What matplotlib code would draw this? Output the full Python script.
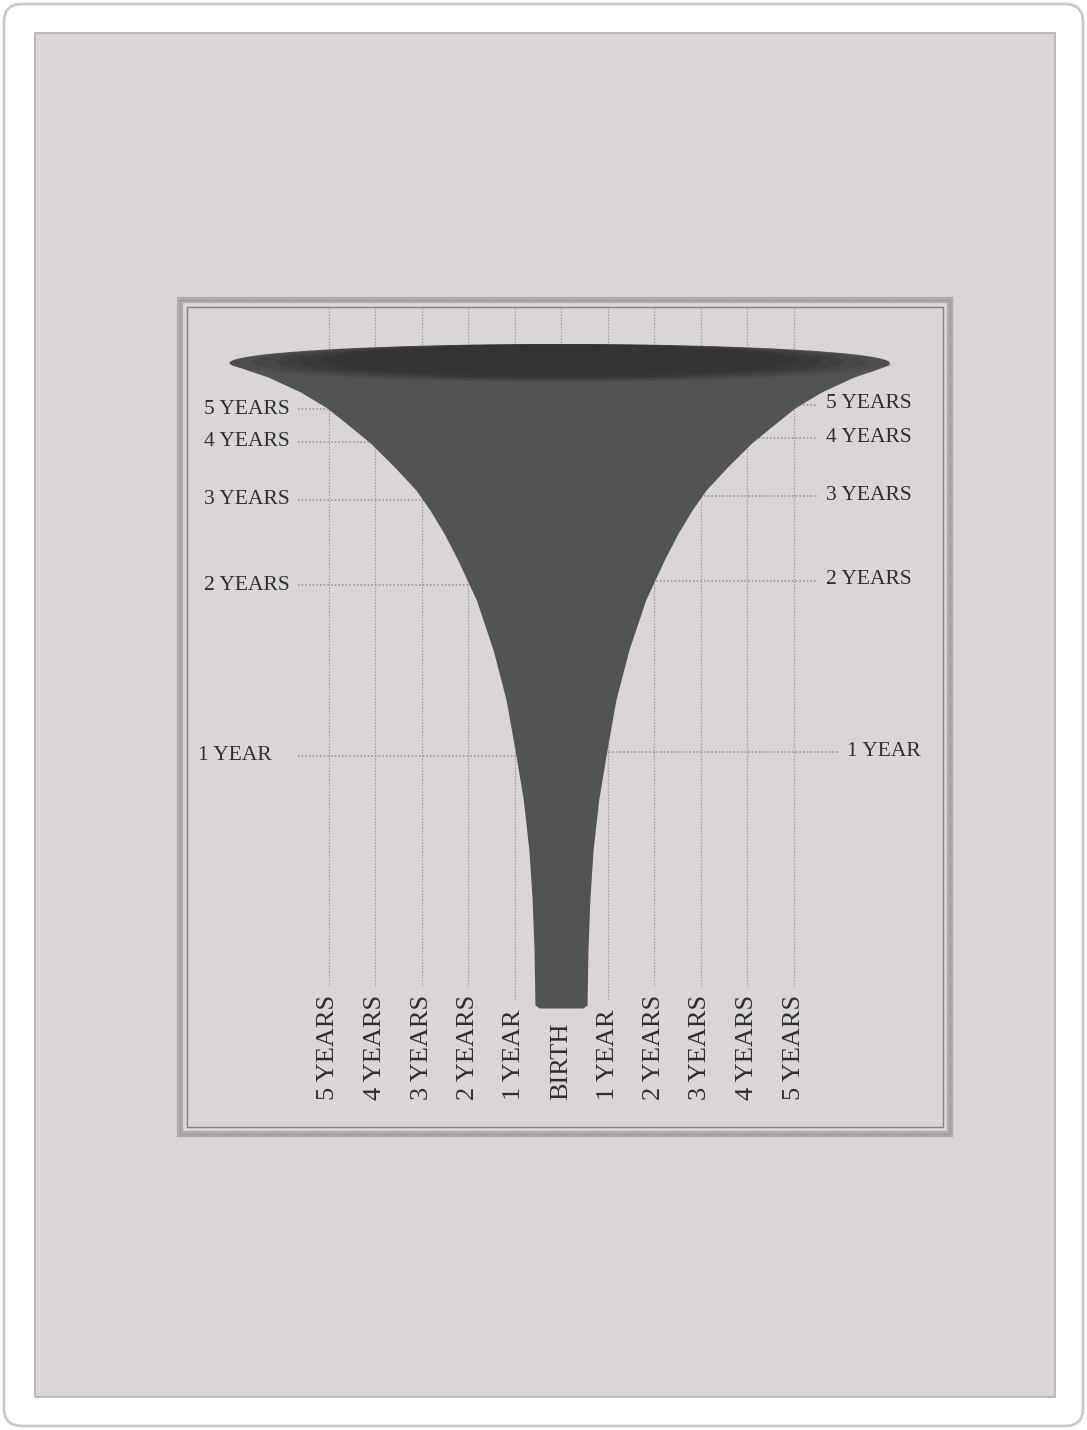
import matplotlib
matplotlib.use("Agg")
import matplotlib.pyplot as plt
from matplotlib.patches import Rectangle, Ellipse, FancyBboxPatch

plt.rcParams['font.family'] = ['Liberation Serif', 'DejaVu Serif']

# ring levels (height above birth, px of the printed page) and their labels
year_ticks = [1, 2, 3, 4, 5]
year_labels = ['1 YEAR', '2 YEARS', '3 YEARS', '4 YEARS', '5 YEARS']
year_heights = [252, 423, 508, 566, 599]

# bottom axis, in years either side of birth
bottom_ticks = [-5, -4, -3, -2, -1, 0, 1, 2, 3, 4, 5]
bottom_labels = ['5 YEARS', '4 YEARS', '3 YEARS', '2 YEARS', '1 YEAR', 'BIRTH',
                 '1 YEAR', '2 YEARS', '3 YEARS', '4 YEARS', '5 YEARS']

# funnel outline: height vs half width (years)
funnel_height = [0, 3, 58, 108, 158, 208, 253, 308, 358, 408, 423, 448, 475, 498,
                 518, 541, 565, 581, 600, 616, 631, 638, 644]
funnel_halfwidth = [0.47, 0.56, 0.58, 0.62, 0.69, 0.81, 0.97, 1.18, 1.46, 1.82, 1.97, 2.22,
                    2.52, 2.82, 3.12, 3.58, 4.10, 4.52, 5.03, 5.60, 6.30, 6.75, 7.10]

# rim of the funnel
rim_height = 645
rim_halfwidth = 7.1

page_col = '#d9d6d4'
grid_col = '#928f8d'
text_col = '#2e2e2e'

W, H = 1087, 1430
fig = plt.figure(figsize=(W / 100, H / 100), dpi=100)
fig.patch.set_facecolor('white')

# photo / page background in pixel coords
bg = fig.add_axes([0, 0, 1, 1])
bg.set_xlim(0, W)
bg.set_ylim(H, 0)
bg.axis('off')
bg.add_patch(FancyBboxPatch((4, 4), W - 8, H - 8, boxstyle='round,pad=0,rounding_size=18',
                            fc='white', ec='#c9c9c9', lw=2))
bg.add_patch(Rectangle((35, 33), 1020, 1364, fc=page_col, ec='#b5b1af', lw=1.2))
# chart box: halftone band + thin inner rule
bg.add_patch(Rectangle((180, 300), 770, 834, fill=False, ec='#aeaba9', lw=4.5))
bg.add_patch(Rectangle((180, 300), 770, 834, fill=False, ec='#8d8a88', lw=0.8, ls=(0, (1, 1))))
bg.add_patch(Rectangle((187, 307), 756, 820, fill=False, ec='#858280', lw=1.0))

# chart axes: x in years (46.5 px per year, birth at px 561), y in px above birth
ax = fig.add_axes([0, 0, 1, 1])
ax.patch.set_alpha(0)
ax.set_xlim((0 - 561) / 46.5, (W - 561) / 46.5)
ax.set_ylim(1008 - H, 1008)
ax.axis('off')

dots = (0, (1, 1.4))

# vertical grid
for t in bottom_ticks:
    low = 20 if t == 0 else -60
    ax.plot([t, t], [700, low], color=grid_col, lw=0.9, ls=dots, zorder=1)

# horizontal rings with labels on both sides
for yr, lab, h in zip(year_ticks, year_labels, year_heights):
    wide = yr == 1
    left_lab = -6.22 if wide else -5.83
    right_lab = 6.15 if wide else 5.70
    right_end = 5.95 if wide else 5.53
    ax.plot([-5.66, 0], [h, h], color=grid_col, lw=1.1, ls=dots, zorder=1)
    ax.plot([0, right_end], [h + 4, h + 4], color=grid_col, lw=1.1, ls=dots, zorder=1)
    ax.text(left_lab, h, lab, ha='right', va='center', fontsize=15.5, color=text_col, zorder=5)
    ax.text(right_lab, h + 5, lab, ha='left', va='center', fontsize=15.5, color=text_col, zorder=5)

# bottom labels (rotated), boxes mask the ends of the grid lines
for t, lab in zip(bottom_ticks, bottom_labels):
    ax.text(t, -92, lab, rotation=90, ha='center', va='bottom', fontsize=19, color=text_col,
            zorder=5, bbox=dict(boxstyle='square,pad=0.3', fc=page_col, ec='none'))

# funnel body
neg = [-w for w in funnel_halfwidth]
ax.fill_betweenx(funnel_height, neg, funnel_halfwidth, color='#50554f', lw=0, zorder=3)

# rim: stacked ellipses, a bit lighter at the tips, darkest in the middle
rim_shades = ['#4e4e4d', '#464645', '#3f3f3e', '#393939', '#343434']
for i, c in enumerate(rim_shades):
    k = 1 - 0.07 * i
    ax.add_patch(Ellipse((-0.03, rim_height + i * 0.6), 2 * rim_halfwidth * k, 38 - 1.5 * i,
                         fc=c, ec='none', zorder=4))

fig.savefig('out.png', dpi=100)
